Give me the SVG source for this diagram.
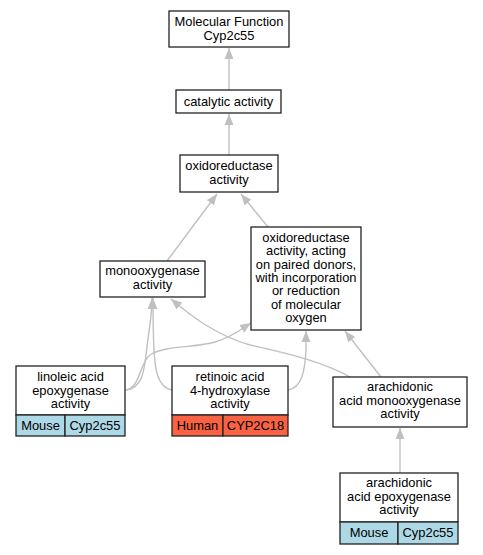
<svg xmlns="http://www.w3.org/2000/svg" width="483" height="555" viewBox="0 0 483 555">
<defs>
<style>
.box{fill:#fff;stroke:#222;stroke-width:1.3}
.mouse{fill:#add8e6;stroke:#222;stroke-width:1.3}
.human{fill:#f96243;stroke:#222;stroke-width:1.3}
text{font-family:"Liberation Sans",Arial,sans-serif;font-size:12.9px;text-anchor:middle;fill:#000}
.edge{fill:none;stroke:#c0c0c0;stroke-width:1.4;marker-end:url(#arr)}
</style>
<marker id="arr" markerUnits="userSpaceOnUse" markerWidth="12" markerHeight="10" refX="11" refY="5" orient="auto">
<path d="M0,0.5 L11,5 L0,9.5 z" fill="#c0c0c0"/>
</marker>
</defs>
<rect width="483" height="555" fill="#fff"/>
<g id="edges">
<path class="edge" d="M229,90 L229,48"/>
<path class="edge" d="M229,155 L229,114"/>
<path class="edge" d="M167,261 L217,194"/>
<path class="edge" d="M268,227 L241,194"/>
<path class="edge" d="M126,390 C142,388 144,372 146,355 C148,335 152,318 152,298"/>
<path class="edge" d="M172,390 C158,388 155,370 154,350 C153,330 153,318 153,298"/>
<path class="edge" d="M126,390 C140,388 140,362 150,355 C165,345 195,348 215,342 C230,338 240,330 251,323"/>
<path class="edge" d="M288,390 C302,388 305,370 306,350 L306,331"/>
<path class="edge" d="M350,377 C320,360 280,352 250,345 C215,335 190,315 171,299"/>
<path class="edge" d="M381,377 L345,331"/>
<path class="edge" d="M400,473 L400,428"/>
</g>
<g id="mf">
<rect class="box" x="169" y="11" width="120" height="36"/>
<text x="229" y="26">Molecular Function</text>
<text x="229" y="39.5">Cyp2c55</text>
</g>
<g id="catalytic">
<rect class="box" x="176" y="90" width="105" height="23"/>
<text x="228.5" y="106">catalytic activity</text>
</g>
<g id="oxidoreductase">
<rect class="box" x="180" y="155" width="98" height="37"/>
<text x="229" y="170">oxidoreductase</text>
<text x="229" y="183.5">activity</text>
</g>
<g id="monooxygenase">
<rect class="box" x="100" y="261" width="105" height="36"/>
<text x="152.5" y="275">monooxygenase</text>
<text x="152.5" y="288.5">activity</text>
</g>
<g id="acting">
<rect class="box" x="251" y="227" width="110" height="103"/>
<text x="306" y="241.8">oxidoreductase</text>
<text x="306" y="255.1">activity, acting</text>
<text x="306" y="268.5">on paired donors,</text>
<text x="306" y="281.8">with incorporation</text>
<text x="306" y="295.1">or reduction</text>
<text x="306" y="308.5">of molecular</text>
<text x="306" y="321.8">oxygen</text>
</g>
<g id="linoleic">
<rect class="box" x="16" y="366" width="109" height="49"/>
<rect class="mouse" x="16" y="415" width="49" height="21"/>
<rect class="mouse" x="65" y="415" width="60" height="21"/>
<text x="70.5" y="381">linoleic acid</text>
<text x="70.5" y="394.5">epoxygenase</text>
<text x="70.5" y="408">activity</text>
<text x="40.5" y="429.5">Mouse</text>
<text x="95" y="429.5">Cyp2c55</text>
</g>
<g id="retinoic">
<rect class="box" x="172" y="366" width="116" height="49"/>
<rect class="human" x="172" y="415" width="51" height="21"/>
<rect class="human" x="223" y="415" width="65" height="21"/>
<text x="230" y="381">retinoic acid</text>
<text x="230" y="394.5">4-hydroxylase</text>
<text x="230" y="408">activity</text>
<text x="197.5" y="429.5">Human</text>
<text x="255.5" y="429.5">CYP2C18</text>
</g>
<g id="arachmono">
<rect class="box" x="333" y="377" width="134" height="50"/>
<text x="400" y="391">arachidonic</text>
<text x="400" y="404.5">acid monooxygenase</text>
<text x="400" y="418">activity</text>
</g>
<g id="arachepox">
<rect class="box" x="340" y="473" width="118" height="49"/>
<rect class="mouse" x="340" y="522" width="58" height="22"/>
<rect class="mouse" x="398" y="522" width="60" height="22"/>
<text x="399" y="487">arachidonic</text>
<text x="399" y="500.5">acid epoxygenase</text>
<text x="399" y="514">activity</text>
<text x="369" y="537">Mouse</text>
<text x="428" y="537">Cyp2c55</text>
</g>
</svg>
